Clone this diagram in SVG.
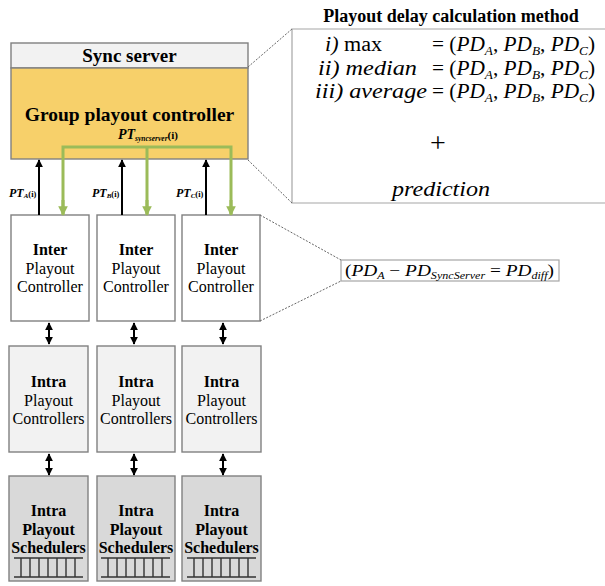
<svg xmlns="http://www.w3.org/2000/svg" width="605" height="586" viewBox="0 0 605 586">
  <defs>
    <marker id="arrowBlack" viewBox="0 0 10 10" refX="9" refY="5" markerWidth="4" markerHeight="4" orient="auto-start-reverse">
      <path d="M0,0 L10,5 L0,10 z" fill="#000"/>
    </marker>
    <marker id="arrowGreen" viewBox="0 0 10 10" refX="9" refY="5" markerWidth="3.2" markerHeight="3.2" orient="auto-start-reverse">
      <path d="M0,0 L10,5 L0,10 z" fill="#9bbb59"/>
    </marker>
    <style>
      text { font-family: "Liberation Serif", "Times New Roman", serif; fill: #000; }
      .box { stroke: #808080; stroke-width: 1.4; }
      .b { font-weight: bold; }
      .mid { text-anchor: middle; }
      .math { font-style: italic; }
      .up { font-style: normal; }
      .guide { stroke: #666; stroke-width: 1; stroke-dasharray: 2 1.5; fill: none; }
      .panel { stroke: #a6a6a6; stroke-width: 1.2; fill: none; }
      .link { stroke: #000; stroke-width: 2; fill: none; }
      .sync { stroke: #9bbb59; stroke-width: 3; fill: none; }
      .ladder { stroke: #333; stroke-width: 1.4; fill: none; }
    </style>
  </defs>

  <!-- Sync server with group playout controller -->
  <g id="sync-server">
    <rect class="box" x="11" y="43" width="237" height="25" fill="#f2f2f2"/>
    <text class="b mid" x="129.5" y="62" font-size="19">Sync server</text>
  </g>
  <g id="group-playout-controller">
    <rect class="box" x="11" y="68" width="237" height="91" fill="#f7d06a"/>
    <text class="b mid" x="129.5" y="121" font-size="19.5">Group playout controller</text>
    <text class="b" x="118" y="139" font-size="14" font-style="italic">PT<tspan font-size="7.5" dy="2">syncserver</tspan><tspan font-size="11" font-style="normal" dy="-2">(i)</tspan></text>
  </g>

  <!-- Calculation method panel -->
  <g id="calc-method">
    <text class="b mid" x="451" y="22" font-size="18">Playout delay calculation method</text>
    <path class="panel" d="M605,29 H292 V203 H605"/>
    <text class="math" x="325" y="51" font-size="20" textLength="57" lengthAdjust="spacingAndGlyphs">i) <tspan class="up">max</tspan></text>
    <text class="math" x="318" y="75" font-size="20" textLength="99" lengthAdjust="spacingAndGlyphs">ii) median</text>
    <text class="math" x="315" y="98" font-size="20" textLength="112" lengthAdjust="spacingAndGlyphs">iii) average</text>
    <text class="math" x="432" y="51" font-size="20" textLength="163" lengthAdjust="spacingAndGlyphs"><tspan class="up">= (</tspan>PD<tspan font-size="12.5" dy="4">A</tspan><tspan dy="-4" class="up">, </tspan>PD<tspan font-size="12.5" dy="4">B</tspan><tspan dy="-4" class="up">, </tspan>PD<tspan font-size="12.5" dy="4">C</tspan><tspan dy="-4" class="up">)</tspan></text>
    <text class="math" x="432" y="75" font-size="20" textLength="163" lengthAdjust="spacingAndGlyphs"><tspan class="up">= (</tspan>PD<tspan font-size="12.5" dy="4">A</tspan><tspan dy="-4" class="up">, </tspan>PD<tspan font-size="12.5" dy="4">B</tspan><tspan dy="-4" class="up">, </tspan>PD<tspan font-size="12.5" dy="4">C</tspan><tspan dy="-4" class="up">)</tspan></text>
    <text class="math" x="432" y="98" font-size="20" textLength="163" lengthAdjust="spacingAndGlyphs"><tspan class="up">= (</tspan>PD<tspan font-size="12.5" dy="4">A</tspan><tspan dy="-4" class="up">, </tspan>PD<tspan font-size="12.5" dy="4">B</tspan><tspan dy="-4" class="up">, </tspan>PD<tspan font-size="12.5" dy="4">C</tspan><tspan dy="-4" class="up">)</tspan></text>
    <text class="up mid" x="438" y="152" font-size="28">+</text>
    <text class="math mid" x="441" y="196" font-size="20" textLength="98" lengthAdjust="spacingAndGlyphs">prediction</text>
  </g>

  <!-- Difference formula -->
  <g id="diff-formula">
    <rect x="341" y="260" width="218" height="21" fill="#fff" stroke="#a6a6a6" stroke-width="1.2"/>
    <text class="math" x="345" y="276" font-size="16" textLength="209" lengthAdjust="spacingAndGlyphs"><tspan class="up">(</tspan>PD<tspan font-size="10" dy="3">A</tspan><tspan dy="-3" class="up"> − </tspan>PD<tspan font-size="10" dy="3">SyncServer</tspan><tspan dy="-3" class="up"> = </tspan>PD<tspan font-size="10" dy="3">diff</tspan><tspan dy="-3" class="up">)</tspan></text>
  </g>

  <!-- Inter playout controllers -->
  <g id="inter-a">
    <rect class="box" x="11" y="215" width="78" height="106" fill="#fff"/>
    <text class="mid" x="50" y="255" font-size="16"><tspan class="b">Inter</tspan><tspan x="50" dy="18.5">Playout</tspan><tspan x="50" dy="18.5">Controller</tspan></text>
  </g>
  <g id="inter-b">
    <rect class="box" x="97" y="215" width="78" height="106" fill="#fff"/>
    <text class="mid" x="136" y="255" font-size="16"><tspan class="b">Inter</tspan><tspan x="136" dy="18.5">Playout</tspan><tspan x="136" dy="18.5">Controller</tspan></text>
  </g>
  <g id="inter-c">
    <rect class="box" x="182" y="215" width="78" height="106" fill="#fff"/>
    <text class="mid" x="221" y="255" font-size="16"><tspan class="b">Inter</tspan><tspan x="221" dy="18.5">Playout</tspan><tspan x="221" dy="18.5">Controller</tspan></text>
  </g>

  <!-- Intra playout controllers -->
  <g id="intra-ctrl-a">
    <rect class="box" x="9" y="346" width="79" height="106" fill="#f2f2f2"/>
    <text class="mid" x="48.5" y="387" font-size="16"><tspan class="b">Intra</tspan><tspan x="48.5" dy="18.5">Playout</tspan><tspan x="48.5" dy="18.5">Controllers</tspan></text>
  </g>
  <g id="intra-ctrl-b">
    <rect class="box" x="97" y="346" width="78" height="106" fill="#f2f2f2"/>
    <text class="mid" x="136" y="387" font-size="16"><tspan class="b">Intra</tspan><tspan x="136" dy="18.5">Playout</tspan><tspan x="136" dy="18.5">Controllers</tspan></text>
  </g>
  <g id="intra-ctrl-c">
    <rect class="box" x="182" y="346" width="79" height="106" fill="#f2f2f2"/>
    <text class="mid" x="221.5" y="387" font-size="16"><tspan class="b">Intra</tspan><tspan x="221.5" dy="18.5">Playout</tspan><tspan x="221.5" dy="18.5">Controllers</tspan></text>
  </g>

  <!-- Intra playout schedulers with queues -->
  <g id="intra-sched-a">
    <rect class="box" x="9" y="476" width="79" height="105" fill="#d9d9d9"/>
    <text class="b mid" x="48.5" y="516" font-size="16">Intra<tspan x="48.5" dy="18.5">Playout</tspan><tspan x="48.5" dy="18.5">Schedulers</tspan></text>
    <path class="ladder" d="M14,558 H83 M14,577 H83 M21,558 V577 M30,558 V577 M39,558 V577 M48,558 V577 M57,558 V577 M66,558 V577 M75,558 V577"/>
  </g>
  <g id="intra-sched-b">
    <rect class="box" x="97" y="476" width="78" height="105" fill="#d9d9d9"/>
    <text class="b mid" x="136" y="516" font-size="16">Intra<tspan x="136" dy="18.5">Playout</tspan><tspan x="136" dy="18.5">Schedulers</tspan></text>
    <path class="ladder" d="M101,558 H170 M101,577 H170 M108,558 V577 M117,558 V577 M126,558 V577 M135,558 V577 M144,558 V577 M153,558 V577 M162,558 V577"/>
  </g>
  <g id="intra-sched-c">
    <rect class="box" x="182" y="476" width="79" height="105" fill="#d9d9d9"/>
    <text class="b mid" x="221.5" y="516" font-size="16">Intra<tspan x="221.5" dy="18.5">Playout</tspan><tspan x="221.5" dy="18.5">Schedulers</tspan></text>
    <path class="ladder" d="M187,558 H256 M187,577 H256 M194,558 V577 M203,558 V577 M212,558 V577 M221,558 V577 M230,558 V577 M239,558 V577 M248,558 V577"/>
  </g>

  <!-- Connectors -->
  <g id="connectors">
    <!-- zoom guides -->
    <path class="guide" d="M248,67 L292,29 M248,160 L292,203"/>
    <path class="guide" d="M260,215 L341,260 M260,321 L341,281"/>

    <!-- playout timestamps reported upward -->
    <line class="link" x1="39" y1="215" x2="39" y2="160" marker-end="url(#arrowBlack)"/>
    <line class="link" x1="122" y1="215" x2="122" y2="160" marker-end="url(#arrowBlack)"/>
    <line class="link" x1="206" y1="215" x2="206" y2="160" marker-end="url(#arrowBlack)"/>
    <text class="b" x="9" y="197" font-size="12" font-style="italic">PT<tspan font-size="7" dy="1">A</tspan><tspan font-size="8.5" font-style="normal" dy="-1">(i)</tspan></text>
    <text class="b" x="92" y="197" font-size="12" font-style="italic">PT<tspan font-size="7" dy="1">B</tspan><tspan font-size="8.5" font-style="normal" dy="-1">(i)</tspan></text>
    <text class="b" x="176" y="197" font-size="12" font-style="italic">PT<tspan font-size="7" dy="1">C</tspan><tspan font-size="8.5" font-style="normal" dy="-1">(i)</tspan></text>

    <!-- sync server timestamp distributed downward -->
    <path class="sync" d="M63,214 V147 H231 V214"/>
    <line class="sync" x1="147" y1="147" x2="147" y2="214"/>
    <line class="sync" x1="63" y1="200" x2="63" y2="215" marker-end="url(#arrowGreen)"/>
    <line class="sync" x1="147" y1="200" x2="147" y2="215" marker-end="url(#arrowGreen)"/>
    <line class="sync" x1="231" y1="200" x2="231" y2="215" marker-end="url(#arrowGreen)"/>

    <!-- two-way links between layers -->
    <line class="link" x1="49" y1="323" x2="49" y2="344" marker-start="url(#arrowBlack)" marker-end="url(#arrowBlack)"/>
    <line class="link" x1="134" y1="323" x2="134" y2="344" marker-start="url(#arrowBlack)" marker-end="url(#arrowBlack)"/>
    <line class="link" x1="223" y1="323" x2="223" y2="344" marker-start="url(#arrowBlack)" marker-end="url(#arrowBlack)"/>
    <line class="link" x1="49" y1="454" x2="49" y2="475" marker-start="url(#arrowBlack)" marker-end="url(#arrowBlack)"/>
    <line class="link" x1="134" y1="454" x2="134" y2="475" marker-start="url(#arrowBlack)" marker-end="url(#arrowBlack)"/>
    <line class="link" x1="223" y1="454" x2="223" y2="475" marker-start="url(#arrowBlack)" marker-end="url(#arrowBlack)"/>
  </g>
</svg>
